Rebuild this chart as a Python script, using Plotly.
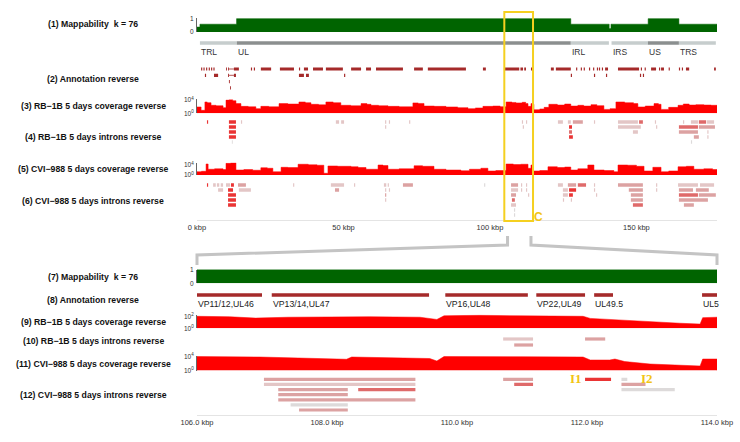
import plotly.graph_objects as go

W, H = 740, 442
X0, X1 = 197, 717

# ---------------- data ----------------
top_range = [0, 177.5]
zoom_range = [106, 114]
top_ticks = [0, 50, 100, 150]
top_ticklabels = ["0 kbp", "50 kbp", "100 kbp", "150 kbp"]
bot_ticks = [106, 108, 110, 112, 114]
bot_ticklabels = ["106.0 kbp", "108.0 kbp", "110.0 kbp", "112.0 kbp", "114.0 kbp"]

track_labels = [
    "(1) Mappability  k = 76", "(2) Annotation reverse", "(3) RB\u22121B 5 days coverage reverse",
    "(4) RB\u22121B 5 days introns reverse", "(5) CVI\u2212988 5 days coverage reverse",
    "(6) CVI\u2212988 5 days introns reverse", "(7) Mappability  k = 76", "(8) Annotation reverse",
    "(9) RB\u22121B 5 days coverage reverse", "(10) RB\u22121B 5 days introns reverse",
    "(11) CVI\u2212988 5 days coverage reverse", "(12) CVI\u2212988 5 days introns reverse",
]

# mappability (full genome)
map1_kbp = [0, 1.0, 13.5, 127.6, 140.7, 141.3, 154.0, 164.5, 177.5]
map1_val = [0.36, 0.57, 0.98, 0.57, 0.25, 0.57, 0.98, 0.57, 0.57]
# mappability (zoom)
map7_kbp = [106, 114]
map7_val = [1.0, 1.0]

# genome regions: name, start, end, kind
regions = [("TRL", 1.0, 13.6, "repeat"), ("UL", 13.6, 127.6, "unique"),
           ("IRL", 127.6, 140.6, "repeat"), ("IRS", 141.5, 153.9, "repeat"),
           ("US", 153.9, 164.5, "unique"), ("TRS", 164.5, 177.1, "repeat")]

# annotation (reverse strand), genome view: start, end, row
ann2 = [
    (1.4, 1.8, 0), (2.2, 2.6, 0), (3.1, 3.5, 0), (4.0, 4.4, 0), (4.8, 5.2, 0), (5.6, 6.0, 0),
    (9.9, 10.2, 0), (10.6, 10.9, 0), (12.6, 14.3, 0), (18.4, 18.8, 0), (19.4, 19.8, 0),
    (21.8, 25.3, 0), (28.3, 33.1, 0), (34.8, 35.2, 0), (36.5, 37.9, 0), (39.6, 43.0, 0),
    (44.0, 49.8, 0), (52.6, 56.0, 0), (57.7, 59.4, 0), (61.1, 70.3, 0), (74.1, 77.1, 0),
    (78.8, 91.8, 0), (97.6, 98.6, 0), (104.8, 110.0, 0), (110.4, 111.3, 0), (111.7, 112.3, 0),
    (114.0, 115.0, 0), (120.8, 121.8, 0), (122.5, 127.6, 0), (129.4, 129.8, 0), (131.0, 131.4, 0),
    (132.0, 132.4, 0), (133.8, 134.2, 0), (135.2, 135.6, 0), (136.5, 136.9, 0), (137.2, 137.6, 0),
    (138.2, 138.6, 0), (139.3, 140.3, 0), (143.7, 150.9, 0), (151.5, 151.9, 0), (152.8, 153.2, 0),
    (155.0, 156.7, 0), (157.7, 158.1, 0), (158.4, 159.4, 0), (161.0, 161.4, 0), (164.5, 164.9, 0),
    (165.5, 165.9, 0), (166.9, 168.0, 0), (176.5, 177.1, 0),
    (2.7, 3.1, 1), (5.8, 7.2, 1), (10.6, 10.9, 1), (12.6, 13.3, 1), (34.8, 36.5, 1), (37.2, 38.2, 1),
    (50.2, 50.6, 1), (127.6, 128.0, 1), (135.5, 135.9, 1), (139.6, 140.0, 1), (151.2, 151.6, 1),
    (152.2, 152.6, 1), (10.9, 11.2, 2), (11.3, 11.6, 3),
]
ann2_introns = [(10.9, 12.6, 0), (10.9, 12.6, 1)]

# annotation (reverse strand), zoom view
ann8_start = [106.0, 107.15, 109.82, 111.22, 112.11, 113.77]
ann8_end = [107.0, 109.57, 111.09, 111.97, 112.40, 114.0]
ann8_name = ["VP11/12,UL46", "VP13/14,UL47", "VP16,UL48", "VP22,UL49", "UL49.5", "UL5"]

# coverage, genome view (step positions in kbp, read depth)
cov3_kbp = [0, 1.4, 2.7, 3.5, 4.8, 6.5, 8.9, 9.9, 11.0, 12.2, 13.3, 15.0, 17.5, 20.1, 21.8, 24.5,
            28.0, 31.0, 34.8, 37.0, 38.9, 41.5, 44.0, 46.5, 49.1, 52.5, 56.0, 58.0, 59.4, 62.0,
            65.2, 69.0, 73.7, 75.5, 77.5, 81.0, 85.0, 89.0, 92.5, 95.0, 97.6, 101.0, 103.5,
            105.5, 107.5, 108.9, 111.0, 112.2, 113.0, 114.0, 114.6, 115.0, 117.0, 118.5, 120.1,
            123.0, 125.5, 127.6, 130.0, 132.0, 134.5, 136.5, 138.9, 141.0, 143.0, 146.0, 149.0,
            150.5, 153.0, 156.0, 157.5, 158.4, 161.0, 164.2, 166.0, 168.0, 170.3, 173.0, 175.5]
cov3_val = [80, 8, 2500, 1500, 250, 180, 50, 9000, 12000, 6000, 800, 120, 90, 25, 120, 90,
            800, 600, 2500, 1500, 500, 350, 2500, 1500, 250, 180, 800, 500, 250, 180,
            120, 90, 1300, 900, 150, 120, 80, 50, 25, 40, 120, 150, 100,
            2500, 1800, 1300, 2000, 800, 120, 800, 500, 12, 20, 60, 500,
            300, 600, 150, 250, 150, 400, 200, 15, 25, 2500, 1500, 800,
            80, 150, 800, 500, 15, 60, 250, 600, 300, 400, 300, 250]
cov5_kbp = [0, 1.5, 3.1, 3.8, 6.0, 8.9, 9.9, 11.5, 13.3, 16.0, 19.0, 21.8, 24.0, 25.9, 28.7,
            31.0, 34.5, 38.0, 41.0, 43.3, 44.7, 48.0, 52.6, 55.0, 57.7, 61.8, 63.5, 65.2, 69.0,
            74.1, 77.0, 80.9, 85.0, 90.1, 93.0, 96.9, 99.3, 102.0, 105.5, 108.0, 110.5, 113.0,
            114.0, 114.7, 117.0, 119.8, 123.0, 125.5, 127.6, 130.0, 133.4, 135.5, 139.0, 142.3,
            143.7, 147.0, 150.0, 152.6, 155.6, 158.4, 161.0, 164.2, 167.0, 169.6, 173.0, 176.0]
cov5_val = [20, 30, 25000, 200, 300, 150, 50000, 80000, 100, 150, 80, 800, 500, 20, 1200,
            900, 20000, 12000, 8000, 5, 4000, 3000, 2000, 1000, 200, 10000, 6000, 200, 300,
            5000, 3000, 200, 100, 50, 200, 500, 40, 60, 25000, 15000, 20000, 500,
            10000, 40, 60, 2000, 1000, 1500, 100, 300, 10000, 100, 60, 20,
            10000, 8000, 3000, 40, 1200, 20, 40, 2000, 3000, 200, 300, 150]

# coverage, zoom view
cov9_kbp = [106.0, 106.5, 106.9, 107.4, 108.05, 108.66, 109.43, 109.69, 109.8, 110.35, 110.97,
            111.58, 111.94, 112.05, 112.35, 112.66, 112.97, 113.43, 113.74, 113.78, 114.0]
cov9_val = [100, 85, 50, 70, 85, 85, 70, 30, 120, 150, 120, 120, 100, 45, 30, 18, 10, 7, 5, 60, 70]
cov11_kbp = [106.0, 106.97, 108.3, 108.38, 109.58, 109.69, 109.8, 110.97, 111.94, 112.05, 112.35,
             112.43, 112.58, 112.97, 113.43, 113.74, 113.78, 114.0]
cov11_val = [11000, 8000, 1800, 8000, 3000, 560, 11000, 10000, 8000, 1100, 1100,
             2100, 400, 75, 40, 20, 2100, 2100]

# introns: start, end, row, read count
intr4 = [
    (3.4, 3.8, 0, 100), (10.9, 13.3, 0, 100), (10.9, 13.3, 1, 100), (10.9, 13.3, 2, 100),
    (10.9, 13.3, 3, 100), (11.9, 12.2, 4, 1), (15.0, 15.4, 0, 2), (47.4, 48.5, 0, 3),
    (49.2, 50.2, 0, 3), (64.2, 64.6, 0, 2), (65.5, 65.9, 0, 2), (64.2, 64.6, 1, 2),
    (72.4, 72.8, 0, 2), (110.9, 111.3, 0, 2), (112.3, 112.7, 0, 2), (111.2, 111.6, 1, 2),
    (123.2, 124.9, 0, 2), (126.6, 127.6, 0, 2), (128.3, 131.7, 0, 5), (127.0, 128.0, 1, 100),
    (127.0, 128.0, 2, 20), (127.0, 128.3, 3, 100), (135.5, 135.9, 0, 2), (143.7, 150.5, 0, 2),
    (150.9, 152.2, 0, 10), (143.7, 151.5, 1, 2), (148.8, 150.5, 2, 2), (156.3, 156.7, 0, 2),
    (156.7, 157.1, 1, 2), (165.9, 166.3, 0, 2), (168.6, 171.0, 0, 3), (171.3, 173.8, 0, 10),
    (174.1, 176.5, 0, 3), (164.5, 171.0, 1, 20), (171.3, 176.8, 1, 5), (164.5, 171.0, 2, 5),
    (174.2, 174.6, 2, 2), (169.6, 171.3, 3, 5), (174.2, 174.6, 3, 2), (168.6, 169.0, 4, 1),
]
intr6 = [
    (3.4, 3.8, 0, 100), (5.5, 6.4, 0, 2), (6.8, 7.6, 0, 2), (8.1, 8.9, 0, 2), (9.9, 11.3, 0, 2),
    (11.6, 12.6, 0, 50), (14.0, 16.7, 0, 5), (32.8, 33.2, 0, 2), (45.7, 50.2, 0, 3),
    (53.6, 54.0, 0, 2), (63.8, 64.6, 0, 2), (65.1, 65.5, 0, 2), (70.3, 73.7, 0, 5),
    (98.0, 98.4, 0, 1), (107.2, 109.6, 0, 5), (110.6, 111.0, 0, 2), (112.3, 112.7, 0, 2),
    (123.2, 124.9, 0, 2), (126.6, 129.4, 0, 5), (130.0, 132.8, 0, 10), (135.5, 135.9, 0, 2),
    (143.7, 152.2, 0, 5), (156.7, 157.1, 0, 2), (164.2, 171.0, 0, 2), (171.7, 176.5, 0, 3),
    (7.2, 8.9, 1, 2), (10.6, 12.3, 1, 100), (14.3, 18.4, 1, 2), (47.1, 48.5, 1, 5),
    (64.2, 64.6, 1, 2), (65.5, 65.9, 1, 2), (107.2, 109.6, 1, 3), (110.6, 111.0, 1, 2),
    (112.3, 112.7, 1, 2), (124.9, 126.6, 1, 2), (127.0, 129.4, 1, 100), (135.5, 135.9, 1, 2),
    (147.4, 152.2, 1, 5), (156.7, 157.1, 1, 2), (164.5, 169.3, 1, 5), (170.3, 174.7, 1, 5),
    (10.6, 13.3, 2, 100), (64.2, 64.6, 2, 5), (107.2, 108.9, 2, 5), (113.0, 113.4, 2, 2),
    (124.9, 126.6, 2, 2), (127.0, 128.3, 2, 100), (136.2, 136.6, 2, 2), (148.1, 152.2, 2, 5),
    (164.5, 171.0, 2, 20), (171.3, 177.1, 2, 5), (10.6, 13.3, 3, 100), (64.2, 64.6, 3, 2),
    (107.5, 108.5, 3, 20), (124.9, 125.3, 3, 2), (127.6, 128.0, 3, 2), (148.1, 152.2, 3, 5),
    (164.5, 174.4, 3, 5), (10.6, 13.3, 4, 100), (107.2, 108.9, 4, 2), (148.8, 152.2, 4, 10),
    (166.2, 169.6, 4, 5), (108.2, 108.6, 5, 1), (108.2, 108.6, 6, 1),
]
intr10 = [(110.71, 111.17, 0, 2), (111.97, 112.28, 0, 4), (110.88, 111.17, 1, 4)]
intr12 = [
    (107.03, 109.36, 0, 4), (107.03, 109.36, 1, 2), (107.25, 108.32, 2, 4), (108.48, 109.36, 2, 20),
    (107.25, 108.32, 3, 4), (107.25, 109.36, 4, 4), (107.44, 108.32, 5, 1), (107.57, 108.32, 6, 4),
    (110.71, 111.17, 0, 4), (110.88, 111.17, 1, 10), (111.97, 112.37, 0, 50),
    (112.53, 112.62, 0, 1), (112.53, 112.9, 1, 5), (112.53, 113.35, 2, 1),
]
highlight_introns = [("I1", 111.97), ("I2", 112.80)]

# ---------------- styling helpers ----------------
FONT = "Liberation Sans, Arial, sans-serif"
RED = "#ff0000"
GREEN = "#006400"
ANN = "#a52a2a"


def py(y):
    return 1 - y / H


def dom(top, bot):
    return [1 - bot / H, 1 - top / H]


def icolor(c):
    if c >= 50:
        return "#ea3434"
    if c >= 10:
        return "#df6a6a"
    if c >= 4:
        return "#dca2a2"
    if c >= 2:
        return "#e3c6c6"
    return "#dddada"


fig = go.Figure()
layout = dict(template="none", width=W, height=H,
              margin=dict(l=0, r=0, t=0, b=0, pad=0, autoexpand=False),
              paper_bgcolor="white", plot_bgcolor="white", showlegend=False,
              font=dict(family=FONT, color="#333"))
xdom = [X0 / W, X1 / W]
xcommon = dict(domain=xdom, anchor="free", showgrid=False, zeroline=False, showline=True,
               linecolor="#e4e4e4", linewidth=1, ticks="", automargin=False,
               tickfont=dict(size=7.5, color="#333"))
layout["xaxis"] = dict(xcommon, range=top_range, position=py(220), tickvals=top_ticks, ticktext=top_ticklabels)
layout["xaxis2"] = dict(xcommon, range=zoom_range, position=py(415), tickvals=bot_ticks, ticktext=bot_ticklabels)

yi = [0]


def new_y(top, bot, rng, xa, visible=False, logy=False, tickvals=None, ticktext=None):
    yi[0] += 1
    n = yi[0]
    key = "yaxis" if n == 1 else "yaxis%d" % n
    ax = dict(domain=dom(top, bot), range=rng, anchor=xa, showgrid=False, zeroline=False,
              fixedrange=True, automargin=False)
    if logy:
        ax["type"] = "log"
    if visible:
        ax.update(showline=True, linecolor="#666", linewidth=1, ticks="", tickvals=tickvals,
                  ticktext=ticktext, tickfont=dict(size=6.5, color="#333"), ticklabelstandoff=1)
    else:
        ax["visible"] = False
    layout[key] = ax
    return "y" if n == 1 else "y%d" % n


def seg_traces(segs, xa, ya, width, colorfn):
    groups = {}
    for s in segs:
        c = colorfn(s)
        groups.setdefault(c, []).append(s)
    for c, ss in groups.items():
        xs, ys = [], []
        for s in ss:
            xs += [s[0], s[1], None]
            ys += [s[2], s[2], None]
        fig.add_trace(go.Scatter(x=xs, y=ys, mode="lines", line=dict(color=c, width=width),
                                 xaxis=xa, yaxis=ya, hoverinfo="skip"))


def rows_axis(y0, s, n, xa):
    return new_y(y0 - s / 2, y0 + (n - 0.5) * s, [n - 0.5, -0.5], xa)


def area(kbp, val, end, xa, ya, color, shape, base=0):
    xs = [kbp[0]] + list(kbp) + [end, end]
    ys = [base] + list(val) + [val[-1], base]
    fig.add_trace(go.Scatter(x=xs, y=ys, mode="lines", line=dict(color=color, width=0.5, shape=shape),
                             fill="toself", fillcolor=color, xaxis=xa, yaxis=ya, hoverinfo="skip"))


# ---- top panel ----
ya = new_y(18.3, 32, [0, 1], "x", visible=True, tickvals=[0, 1], ticktext=["0", "1"])
area(map1_kbp, map1_val, top_range[1], "x", ya, GREEN, "hv")

ya = new_y(38, 48, [0, 1], "x")
for name, a, b, kind in regions:
    col = "#c6cdcd" if kind == "repeat" else "#8b8f8f"
    fig.add_trace(go.Scatter(x=[a, b], y=[0.5, 0.5], mode="lines", line=dict(color=col, width=3.5),
                             xaxis="x", yaxis=ya, hoverinfo="skip"))

ya = rows_axis(69, 6.3, 4, "x")
seg_traces(ann2_introns, "x", ya, 0.8, lambda s: ANN)
seg_traces(ann2, "x", ya, 3.2, lambda s: ANN)

ya = new_y(99.3, 113.3, [0, 4.2], "x", visible=True, logy=True, tickvals=[1, 1e4],
           ticktext=["10<sup>0</sup>", "10<sup>4</sup>"])
area(cov3_kbp, cov3_val, top_range[1], "x", ya, RED, "hv", base=1)

ya = rows_axis(122, 5, 5, "x")
seg_traces(intr4, "x", ya, 3.6, lambda s: icolor(s[3]))

ya = new_y(162.75, 175, [0, 4.9], "x", visible=True, logy=True, tickvals=[1, 1e4],
           ticktext=["10<sup>0</sup>", "10<sup>4</sup>"])
area(cov5_kbp, cov5_val, top_range[1], "x", ya, RED, "hv", base=1)

ya = rows_axis(185, 5, 7, "x")
seg_traces(intr6, "x", ya, 3.6, lambda s: icolor(s[3]))

# ---- bottom panel ----
ya = new_y(269.5, 283.3, [0, 1], "x2", visible=True, tickvals=[0, 1], ticktext=["0", "1"])
area(map7_kbp, map7_val, zoom_range[1], "x2", ya, GREEN, "hv")

ya = new_y(290, 300, [0, 1], "x2")
for a, b in zip(ann8_start, ann8_end):
    fig.add_trace(go.Scatter(x=[a, b], y=[0.5, 0.5], mode="lines", line=dict(color=ANN, width=3.6),
                             xaxis="x2", yaxis=ya, hoverinfo="skip"))

ya = new_y(314.5, 328.3, [0, 2.3], "x2", visible=True, logy=True, tickvals=[1, 100],
           ticktext=["10<sup>0</sup>", "10<sup>2</sup>"])
area(cov9_kbp, cov9_val, zoom_range[1], "x2", ya, RED, "linear", base=1)

ya = rows_axis(339, 6, 2, "x2")
seg_traces(intr10, "x2", ya, 3.2, lambda s: icolor(s[3]))

ya = new_y(356, 370.5, [0, 4.2], "x2", visible=True, logy=True, tickvals=[1, 1e4],
           ticktext=["10<sup>0</sup>", "10<sup>4</sup>"])
area(cov11_kbp, cov11_val, zoom_range[1], "x2", ya, RED, "linear", base=1)

ya = rows_axis(379.3, 5.12, 7, "x2")
seg_traces(intr12, "x2", ya, 3.2, lambda s: icolor(s[3]))

# ---- annotations ----
ann = []
label_y = [24, 79, 106, 137, 169, 201, 277, 300, 322, 341, 364, 395]
for t, yy in zip(track_labels, label_y):
    ann.append(dict(text="<b>%s</b>" % t, x=93 / W, y=py(yy), xref="paper", yref="paper",
                    xanchor="center", yanchor="middle", showarrow=False,
                    font=dict(size=8.7, color="#111", family=FONT)))
for name, a, b, kind in regions:
    ann.append(dict(text=name, x=a, y=py(52), xref="x", yref="paper", xanchor="left",
                    yanchor="middle", showarrow=False, xshift=-1, font=dict(size=8.5, color="#333")))
for a, name in zip(ann8_start, ann8_name):
    ann.append(dict(text=name, x=a, y=py(303.5), xref="x2", yref="paper", xanchor="left",
                    yanchor="middle", showarrow=False, xshift=-1, font=dict(size=8.7, color="#222")))
GOLD = "#f2c414"
ann.append(dict(text="<b>I1</b>", x=highlight_introns[0][1], y=py(378), xref="x2", yref="paper",
                xanchor="right", yanchor="middle", showarrow=False, xshift=-1,
                font=dict(size=13, color=GOLD, family="Liberation Serif, serif")))
ann.append(dict(text="<b>I2</b>", x=highlight_introns[1][1], y=py(378), xref="x2", yref="paper",
                xanchor="left", yanchor="middle", showarrow=False,
                font=dict(size=13, color=GOLD, family="Liberation Serif, serif")))
ann.append(dict(text="<b>C</b>", x=538.5 / W, y=py(217), xref="paper", yref="paper",
                xanchor="center", yanchor="middle", showarrow=False,
                font=dict(size=12, color=GOLD, family=FONT)))
layout["annotations"] = ann

# ---- shapes: zoom box and connectors ----
def top_px(k):
    return X0 + (k - top_range[0]) / (top_range[1] - top_range[0]) * (X1 - X0)


shapes = [dict(type="rect", xref="x", yref="paper", x0=104.9, x1=114.7, y0=py(221), y1=py(12),
               line=dict(color="#f5d020", width=2), fillcolor="rgba(0,0,0,0)")]
lx, rx = top_px(zoom_range[0]), top_px(zoom_range[1])
for sx, ex in [(lx, X0), (rx, X1)]:
    path = "M %f,%f L %f,%f L %f,%f L %f,%f" % (sx / W, py(236), sx / W, py(245), ex / W, py(255), ex / W, py(265))
    shapes.append(dict(type="path", xref="paper", yref="paper", path=path,
                       line=dict(color="#c4c4c4", width=3)))
layout["shapes"] = shapes

fig.update_layout(**layout)
fig.write_html("out.html", config={"displayModeBar": False},
               post_script="document.body.style.margin='0px';")
